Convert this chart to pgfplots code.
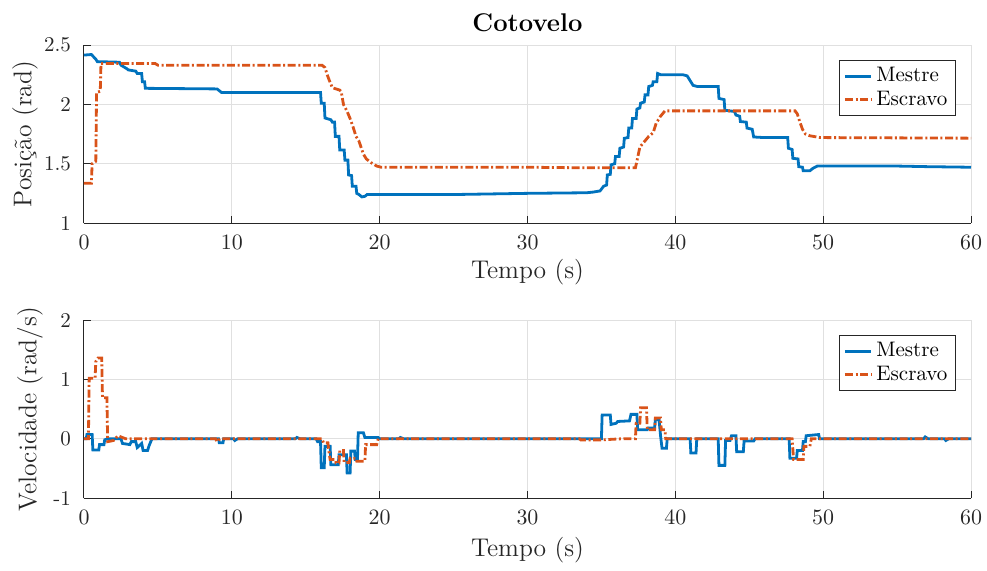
\documentclass[border=0pt]{standalone}
\usepackage{fontspec}
\usepackage{pgfplots}
\pgfplotsset{compat=1.18}
\definecolor{mblue}{rgb}{0,0.447,0.741}
\definecolor{morange}{rgb}{0.85,0.325,0.098}
\definecolor{axgray}{rgb}{0.15,0.15,0.15}
\begin{document}
\begin{tikzpicture}
\useasboundingbox (-42pt,22.5pt) rectangle (451.5pt,-262.5pt);
\pgfplotsset{myax/.style={
 scale only axis, width=443.5pt, height=89pt,
 xmin=0,xmax=60, xtick={0,10,...,60},
 axis x line*=bottom, axis y line*=left,
 axis line style={axgray, line width=0.5pt, -},
 tick style={axgray, line width=0.5pt}, tick align=inside, major tick length=3.5pt,
 grid=major, major grid style={black!12, line width=0.5pt},
 ticklabel style={font=\fontsize{10.5}{12}\selectfont, text=axgray},
 xticklabel style={yshift=-2.5pt},
 yticklabel style={xshift=-3pt},
 label style={font=\fontsize{12.8}{15}\selectfont, text=axgray},
 xlabel={Tempo (s)},
 legend style={at={(0.983,0.916)}, anchor=north east, draw=axgray, line width=0.5pt, fill=white,
   font=\fontsize{10.5}{12}\selectfont, inner xsep=2pt, inner ysep=1.5pt, row sep=-1pt},
 legend cell align=left,
 legend image code/.code={\draw[#1] plot coordinates {(0pt,0pt)(6.5pt,0pt)(13pt,0pt)};},
 mestre/.style={mblue, line width=1.4pt, solid},
 escravo/.style={morange, line width=1.4pt, dash pattern=on 4pt off 1.3pt on 1pt off 1.3pt},
}}
\begin{axis}[myax, at={(0,0)}, anchor=north west,
 ymin=1, ymax=2.5, ytick={1,1.5,2,2.5}, yticklabels={1,1.5,2,2.5},
 ylabel={Posição (rad)},
 title={Cotovelo}, title style={at={(axis description cs:0.5,1.056)}, anchor=center, font=\bfseries\fontsize{12.8}{15}\selectfont},
 xlabel style={at={(axis description cs:0.5,-0.275)}, anchor=center},
 ylabel style={at={(axis description cs:-0.0665,0.5)}, anchor=center},
]
\addplot[mestre] coordinates {
(0,2.415)(0.5,2.42)(0.65,2.40)(0.8,2.38)(0.9,2.36)(2.4,2.355)(2.5,2.33)(2.9,2.30)(3.0,2.29)(3.5,2.28)(3.6,2.26)(3.9,2.26)(3.95,2.19)(4.1,2.19)(4.15,2.135)(9.0,2.13)(9.3,2.10)(15.8,2.10)(16.0,2.10)(16.05,2.01)(16.25,2.01)(16.3,1.885)(16.7,1.87)(16.8,1.85)(16.95,1.85)(17.0,1.73)(17.25,1.73)(17.3,1.615)(17.6,1.615)(17.65,1.53)(17.85,1.53)(17.9,1.405)(18.1,1.40)(18.15,1.31)(18.4,1.31)(18.45,1.25)(18.6,1.24)(18.8,1.22)(19.0,1.225)(19.15,1.24)(25,1.24)(30,1.25)(34.0,1.255)(34.4,1.26)(34.9,1.27)(35.0,1.285)(35.15,1.31)(35.35,1.32)(35.4,1.405)(35.6,1.41)(35.65,1.49)(35.9,1.50)(35.95,1.56)(36.2,1.56)(36.25,1.63)(36.5,1.64)(36.55,1.714)(36.8,1.72)(36.85,1.80)(37.05,1.80)(37.1,1.88)(37.35,1.88)(37.4,1.96)(37.6,1.97)(37.65,2.01)(37.9,2.02)(37.95,2.08)(38.15,2.08)(38.2,2.15)(38.45,2.16)(38.5,2.19)(38.75,2.19)(38.8,2.26)(39.0,2.25)(40.5,2.25)(40.8,2.24)(41.0,2.20)(41.2,2.16)(41.5,2.15)(42.9,2.15)(42.95,2.05)(43.3,2.04)(43.35,1.95)(44.0,1.94)(44.1,1.91)(44.35,1.90)(44.4,1.855)(44.8,1.85)(44.85,1.80)(45.2,1.79)(45.3,1.725)(46,1.72)(47.6,1.72)(47.65,1.63)(47.9,1.62)(47.95,1.545)(48.3,1.54)(48.35,1.475)(48.6,1.47)(48.65,1.44)(49.1,1.44)(49.3,1.46)(49.6,1.48)(55,1.48)(57,1.475)(60,1.47)
};
\addlegendentry{Mestre}
\addplot[escravo] coordinates {
(0,1.335)(0.5,1.335)(0.55,1.50)(0.8,1.52)(0.85,2.10)(1.1,2.11)(1.15,2.345)(4.8,2.345)(5.0,2.33)(16.1,2.33)(16.3,2.31)(16.45,2.25)(16.6,2.20)(16.8,2.14)(17.3,2.12)(17.4,2.107)(17.55,2.00)(17.8,1.94)(18.0,1.88)(18.2,1.81)(18.4,1.73)(18.6,1.69)(18.9,1.58)(19.1,1.54)(19.4,1.51)(19.8,1.48)(20.1,1.47)(30,1.47)(34,1.465)(37.3,1.465)(37.45,1.55)(37.6,1.64)(38.0,1.70)(38.2,1.73)(38.5,1.76)(38.7,1.84)(39.0,1.90)(39.3,1.945)(48.1,1.945)(48.25,1.92)(48.4,1.86)(48.6,1.79)(48.8,1.75)(49.1,1.735)(49.8,1.72)(60,1.715)
};
\addlegendentry{Escravo}
\end{axis}
\begin{axis}[myax, at={(0,-137.5pt)}, anchor=north west,
 ymin=-1, ymax=2, ytick={-1,0,1,2}, yticklabels={-1,0,1,2},
 ylabel={Velocidade (rad/s)},
 xlabel style={at={(axis description cs:0.5,-0.292)}, anchor=center},
 ylabel style={at={(axis description cs:-0.0609,0.5)}, anchor=center},
]
\addplot[mestre] coordinates {
(0,0)(0.15,0)(0.2,0.07)(0.55,0.07)(0.6,-0.19)(1.0,-0.19)(1.05,-0.1)(1.35,-0.1)(1.4,-0.02)(1.6,0)(2.5,0)(2.6,-0.08)(3.1,-0.1)(3.2,-0.05)(3.5,-0.05)(3.6,-0.15)(3.9,-0.08)(4.0,-0.2)(4.3,-0.2)(4.4,-0.12)(4.6,0)(9.1,0)(9.15,-0.07)(9.4,-0.07)(9.45,0)(10.1,0)(10.2,-0.03)(10.4,0)(14.3,0)(14.4,0.02)(14.6,0)(15.7,0)(15.8,-0.05)(16.0,-0.05)(16.05,-0.49)(16.25,-0.49)(16.3,-0.13)(16.65,-0.13)(16.7,-0.44)(17.2,-0.44)(17.25,-0.27)(17.75,-0.27)(17.8,-0.58)(18.0,-0.58)(18.05,-0.21)(18.3,-0.21)(18.35,-0.35)(18.5,-0.35)(18.55,0.10)(18.9,0.10)(19.0,0.02)(19.9,0.02)(20,0)(21.3,0)(21.4,0.02)(21.6,0)(35.0,0)(35.05,0.40)(35.6,0.40)(35.65,0.24)(36.0,0.26)(36.1,0.29)(36.9,0.30)(37.0,0.41)(37.4,0.41)(37.45,0.15)(38.1,0.15)(38.15,0.18)(38.6,0.18)(38.65,0.32)(38.9,0.32)(39.0,0.05)(39.1,-0.16)(39.4,-0.16)(39.45,0)(41.0,0)(41.05,-0.24)(41.4,-0.24)(41.45,0)(42.9,0)(42.95,-0.45)(43.35,-0.45)(43.4,-0.03)(43.7,-0.03)(43.8,0.05)(44.1,0.05)(44.15,-0.22)(44.6,-0.22)(44.65,-0.04)(45.3,-0.04)(45.4,0)(47.7,0)(47.75,-0.33)(48.2,-0.33)(48.25,-0.2)(48.6,-0.2)(48.65,-0.05)(48.8,-0.05)(48.85,0.05)(49.7,0.07)(49.75,0)(56.8,0)(56.9,0.03)(57.1,0)(58.2,0)(58.3,-0.03)(58.5,0)(60,0)
};
\addlegendentry{Mestre}
\addplot[escravo] coordinates {
(0,0)(0.3,0)(0.35,1.02)(0.75,1.02)(0.8,1.30)(0.95,1.36)(1.2,1.36)(1.25,0.69)(1.55,0.69)(1.6,-0.05)(2.0,-0.03)(2.3,0.05)(2.6,0.02)(2.8,0)(8.9,0)(9.0,-0.05)(9.2,0)(16.1,0)(16.2,-0.07)(16.5,-0.07)(16.55,-0.19)(16.65,-0.35)(17.0,-0.35)(17.05,-0.41)(17.25,-0.41)(17.3,-0.2)(17.55,-0.2)(17.6,-0.40)(17.95,-0.40)(18.0,-0.33)(18.4,-0.33)(18.45,-0.38)(19.0,-0.38)(19.05,-0.10)(19.8,-0.10)(19.9,0)(33.5,0)(33.6,-0.02)(35,-0.02)(36.5,0.0)(37.3,0.0)(37.35,0.26)(37.6,0.26)(37.65,0.52)(38.05,0.52)(38.1,0.15)(38.6,0.15)(38.65,0.35)(39.0,0.35)(39.05,0.15)(39.3,0.15)(39.35,0)(47.9,0)(48.0,-0.35)(48.65,-0.35)(48.7,-0.13)(49.1,-0.13)(49.2,0)(60,0)
};
\addlegendentry{Escravo}
\end{axis}
\end{tikzpicture}
\end{document}
